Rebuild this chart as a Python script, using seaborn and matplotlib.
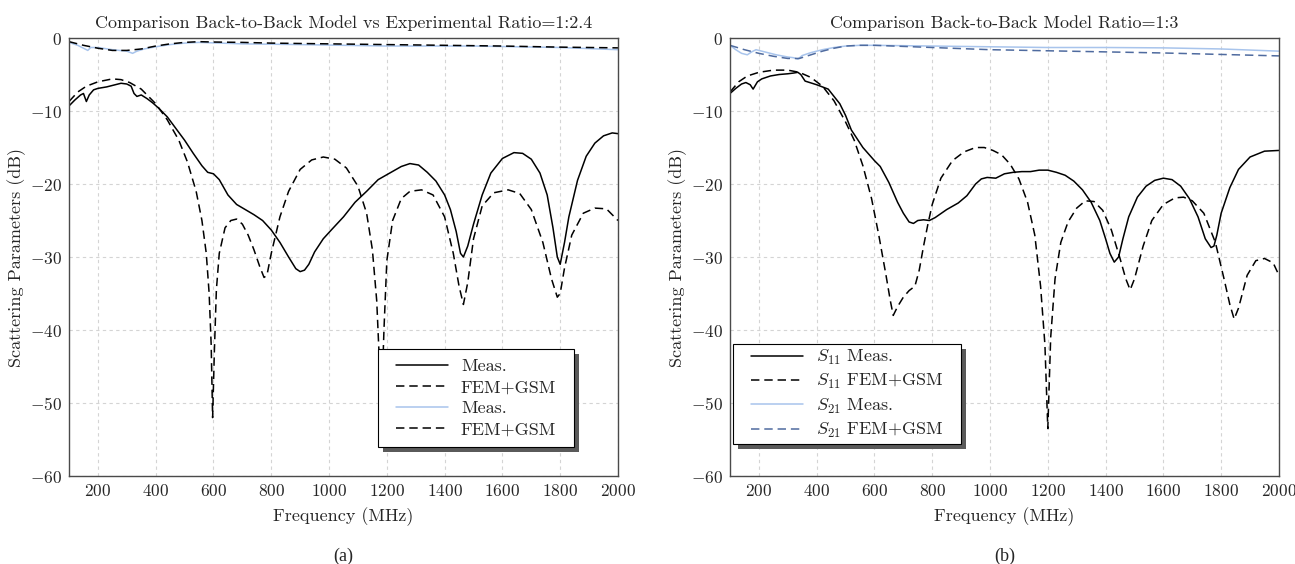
import numpy as np
import pandas as pd
import seaborn as sns
import matplotlib.pyplot as plt
from matplotlib.patches import Rectangle

# ---- (a) ratio 1:2.4 ----
a_s11_meas_f = [100, 120, 140, 150, 160, 170, 185, 200, 230, 260, 280, 300, 315, 325, 335, 350, 370, 390, 410, 440,
                470, 500, 530, 560, 580, 600, 620, 650, 680, 710, 740, 770, 800, 830, 860, 885, 900, 915, 930, 950,
                980, 1010, 1050, 1090, 1130, 1170, 1210, 1250, 1280, 1310, 1340, 1370, 1400, 1420, 1440, 1455, 1465,
                1480, 1500, 1530, 1560, 1600, 1640, 1670, 1700, 1730, 1755, 1775, 1790, 1800, 1815, 1830, 1860, 1890,
                1920, 1950, 1980, 2000]
a_s11_meas_db = [-9.3, -8.5, -7.8, -7.6, -8.7, -7.8, -7.1, -6.9, -6.7, -6.4, -6.2, -6.3, -6.6, -7.6, -8.0, -7.8, -8.3,
                 -8.9, -9.6, -10.8, -12.4, -14.0, -15.8, -17.5, -18.4, -18.6, -19.4, -21.5, -22.8, -23.5, -24.2, -25.0,
                 -26.3, -28.0, -30.0, -31.6, -32.0, -31.8, -31.0, -29.3, -27.5, -26.2, -24.5, -22.5, -21.0, -19.4,
                 -18.5, -17.6, -17.2, -17.4, -18.4, -19.6, -21.5, -23.5, -26.5, -29.5, -30.0, -28.5, -25.5, -21.5,
                 -18.5, -16.5, -15.7, -15.8, -16.6, -18.5, -21.5, -26.0, -30.0, -31.0, -28.0, -24.5, -19.5, -16.2,
                 -14.4, -13.4, -13.0, -13.1]

a_s11_fem_f = [100, 130, 160, 200, 250, 280, 310, 350, 400, 440, 480, 510, 540, 560, 575, 585, 592, 597, 603, 610, 620,
               640, 660, 680, 700, 720, 740, 760, 775, 785, 800, 830, 860, 900, 940, 980, 1020, 1060, 1100, 1130, 1150,
               1165, 1175, 1182, 1190, 1200, 1220, 1250, 1280, 1320, 1360, 1400, 1430, 1450, 1465, 1480, 1500, 1530,
               1570, 1620, 1660, 1700, 1740, 1770, 1790, 1800, 1815, 1840, 1880, 1920, 1960, 2000]
a_s11_fem_db = [-8.7, -7.4, -6.6, -6.0, -5.6, -5.7, -6.1, -7.0, -9.0, -11.2, -14.0, -17.0, -21.0, -25.0, -29.5, -35.0,
                -42.0, -52.0, -43.0, -34.5, -29.5, -26.0, -25.0, -24.8, -25.5, -27.0, -29.0, -31.3, -32.8, -32.5, -29.5,
                -24.5, -21.0, -18.0, -16.7, -16.3, -16.6, -17.8, -20.3, -24.0, -29.0, -36.0, -45.0, -50.0, -40.0,
                -30.5, -25.0, -22.0, -21.0, -20.8, -21.5, -24.5, -29.5, -34.0, -36.5, -33.5, -27.5, -23.0, -21.2,
                -20.8, -21.3, -23.5, -28.0, -33.0, -35.5, -35.0, -31.5, -27.0, -24.0, -23.3, -23.4, -25.0]

a_s21_meas_f = [100, 130, 155, 165, 175, 200, 250, 300, 320, 335, 360, 400, 450, 500, 550, 700, 900, 1200, 1500, 1800, 2000]
a_s21_meas_db = [-0.6, -1.0, -1.5, -1.7, -1.3, -1.3, -1.6, -1.8, -2.1, -1.8, -1.5, -1.2, -0.9, -0.7, -0.6, -0.8, -0.9,
                 -1.1, -1.1, -1.3, -1.6]

a_s21_fem_f = [100, 150, 200, 250, 300, 350, 400, 450, 500, 550, 600, 700, 800, 1000, 1200, 1400, 1600, 1800, 2000]
a_s21_fem_db = [-0.5, -1.0, -1.4, -1.7, -1.7, -1.5, -1.1, -0.8, -0.6, -0.5, -0.55, -0.6, -0.7, -0.8, -0.9, -1.0, -1.1,
                -1.25, -1.35]

# ---- (b) ratio 1:3 ----
b_s11_meas_f = [100, 120, 140, 155, 170, 180, 195, 210, 240, 270, 300, 320, 335, 345, 360, 400, 440, 480, 500, 520, 560,
                600, 620, 650, 680, 700, 720, 735, 750, 770, 790, 810, 850, 890, 920, 950, 970, 990, 1020, 1050, 1080,
                1110, 1140, 1170, 1200, 1230, 1260, 1290, 1320, 1350, 1380, 1400, 1415, 1430, 1445, 1460, 1480, 1510,
                1540, 1570, 1600, 1630, 1660, 1690, 1720, 1745, 1765, 1775, 1785, 1800, 1830, 1860, 1900, 1950, 2000]
b_s11_meas_db = [-7.6, -6.9, -6.3, -6.1, -6.4, -7.0, -6.0, -5.6, -5.2, -5.0, -4.9, -4.8, -4.7, -5.0, -5.9, -6.4, -7.0,
                 -9.0, -10.6, -12.6, -15.0, -16.8, -17.6, -19.8, -22.5, -24.0, -25.2, -25.4, -25.0, -24.9, -25.0,
                 -24.6, -23.5, -22.6, -21.6, -20.0, -19.3, -19.1, -19.2, -18.6, -18.4, -18.3, -18.3, -18.1, -18.1,
                 -18.4, -18.8, -19.6, -20.8, -22.5, -25.0, -27.5, -29.5, -30.7, -30.0, -27.5, -24.5, -21.8, -20.3,
                 -19.5, -19.2, -19.4, -20.3, -22.0, -24.5, -27.5, -28.7, -28.5, -27.0, -24.0, -20.5, -18.0, -16.3,
                 -15.5, -15.4]

b_s11_fem_f = [100, 130, 160, 200, 250, 300, 340, 380, 420, 460, 500, 530, 560, 590, 615, 640, 655, 665, 680, 700, 720,
               740, 755, 770, 785, 800, 830, 870, 910, 950, 980, 1010, 1040, 1070, 1100, 1130, 1155, 1175, 1190, 1200,
               1210, 1225, 1245, 1270, 1300, 1330, 1360, 1390, 1420, 1450, 1470, 1485, 1500, 1530, 1560, 1600, 1640,
               1670, 1700, 1740, 1780, 1810, 1830, 1845, 1860, 1890, 1920, 1950, 1980, 2000]
b_s11_fem_db = [-7.4, -6.0, -5.2, -4.7, -4.4, -4.4, -4.7, -5.4, -6.6, -8.6, -11.5, -14.0, -17.5, -22.0, -27.0, -32.5,
                -36.0, -38.0, -36.8, -35.5, -34.6, -34.0, -31.8, -28.5, -25.5, -22.8, -19.2, -16.8, -15.6, -15.0,
                -15.0, -15.4, -16.0, -17.3, -19.3, -22.5, -27.0, -34.0, -42.0, -53.5, -41.0, -33.0, -28.0, -25.2,
                -23.3, -22.3, -22.4, -23.6, -26.3, -30.2, -33.0, -34.5, -33.0, -28.5, -25.0, -22.8, -21.9, -21.8,
                -22.3, -24.0, -28.0, -33.0, -36.5, -38.5, -37.0, -32.5, -30.5, -30.2, -30.8, -32.5]

b_s21_meas_f = [100, 120, 140, 160, 175, 190, 220, 260, 300, 320, 335, 350, 380, 420, 460, 500, 550, 600, 800, 1000,
                1200, 1400, 1600, 1800, 2000]
b_s21_meas_db = [-1.0, -1.6, -2.1, -2.3, -1.9, -1.6, -1.9, -2.3, -2.6, -2.7, -2.9, -2.4, -2.0, -1.6, -1.3, -1.1, -1.0,
                 -1.0, -1.1, -1.2, -1.3, -1.3, -1.35, -1.5, -1.8]

b_s21_fem_f = [100, 150, 200, 250, 300, 340, 380, 420, 460, 500, 550, 600, 700, 800, 1000, 1200, 1400, 1600, 1800, 2000]
b_s21_fem_db = [-1.0, -1.6, -2.1, -2.5, -2.8, -2.8, -2.3, -1.8, -1.4, -1.1, -1.0, -1.0, -1.15, -1.3, -1.6, -1.75, -1.9,
                -2.05, -2.25, -2.45]

sns.set_style("white")
plt.rcParams['font.family'] = 'serif'
plt.rcParams['font.serif'] = ['cmr10', 'DejaVu Serif']
plt.rcParams['mathtext.fontset'] = 'cm'
plt.rcParams['axes.formatter.use_mathtext'] = True
plt.rcParams['axes.unicode_minus'] = True

FS = 13
TICK_FS = 12.5
black = 'black'
lightblue = '#a8c4ec'
slate = '#4f6b9f'
dash = (0, (5.5, 3.2))

fig = plt.figure(figsize=(12.95, 5.64), dpi=100)
ax_a = fig.add_axes([0.0533, 0.156, 0.4239, 0.7766])
ax_b = fig.add_axes([0.5637, 0.156, 0.4239, 0.7766])


def draw(ax, f, db, color, ls, label, lw=1.1):
    df = pd.DataFrame({'f': f, 'db': db})
    sns.lineplot(data=df, x='f', y='db', ax=ax, color=color, linestyle=ls, linewidth=lw, label=label)


draw(ax_a, a_s11_meas_f, a_s11_meas_db, black, '-', 'Meas.')
draw(ax_a, a_s11_fem_f, a_s11_fem_db, black, dash, 'FEM+GSM')
draw(ax_a, a_s21_meas_f, a_s21_meas_db, lightblue, '-', 'Meas.')
draw(ax_a, a_s21_fem_f, a_s21_fem_db, black, dash, 'FEM+GSM')

draw(ax_b, b_s11_meas_f, b_s11_meas_db, black, '-', r'$S_{11}$ Meas.')
draw(ax_b, b_s11_fem_f, b_s11_fem_db, black, dash, r'$S_{11}$ FEM+GSM')
draw(ax_b, b_s21_meas_f, b_s21_meas_db, lightblue, '-', r'$S_{21}$ Meas.')
draw(ax_b, b_s21_fem_f, b_s21_fem_db, slate, dash, r'$S_{21}$ FEM+GSM')

titles = ['Comparison Back-to-Back Model vs Experimental Ratio=1:2.4',
          'Comparison Back-to-Back Model Ratio=1:3']
captions = ['(a)', '(b)']

for ax, title, cap in zip([ax_a, ax_b], titles, captions):
    ax.set_xlim(100, 2000)
    ax.set_ylim(-60, 0)
    ax.set_xticks(np.arange(200, 2001, 200))
    ax.set_yticks(np.arange(-60, 1, 10))
    ax.grid(True, color='#d4d4d4', linestyle=(0, (3, 3)), linewidth=0.8)
    ax.tick_params(labelsize=TICK_FS, direction='in', length=0, pad=5)
    ax.set_title(title, fontsize=FS, pad=7)
    ax.set_xlabel('Frequency (MHz)', fontsize=FS, labelpad=6)
    ax.set_ylabel('Scattering Parameters (dB)', fontsize=FS, labelpad=3)
    for sp in ax.spines.values():
        sp.set_color('#4a4a4a')
        sp.set_linewidth(1.0)
    ax.text(0.5, -0.183, cap, transform=ax.transAxes, ha='center', va='center',
            fontsize=FS, family='Liberation Serif')

# legend boxes (axes fraction: x0, y0, x1, y1), framed by hand with an offset shadow
boxes = {ax_a: (0.563, 0.066, 0.920, 0.290), ax_b: (0.0055, 0.073, 0.421, 0.301)}
leg_kw = dict(fontsize=FS, frameon=False, loc='center', handlelength=2.9, borderpad=0,
              labelspacing=0.3, handletextpad=0.7, borderaxespad=0)
for ax, (x0, y0, x1, y1) in boxes.items():
    lg = ax.legend(bbox_to_anchor=((x0 + x1) / 2, (y0 + y1) / 2), **leg_kw)
    lg.set_zorder(6)
    dx = 5 / 549
    dy = 5 / 438
    ax.add_patch(Rectangle((x0 + dx, y0 - dy), x1 - x0, y1 - y0, transform=ax.transAxes,
                           facecolor='#5a5a5a', edgecolor='none', zorder=4.8, clip_on=False))
    ax.add_patch(Rectangle((x0, y0), x1 - x0, y1 - y0, transform=ax.transAxes,
                           facecolor='white', edgecolor='black', linewidth=0.8, zorder=4.9, clip_on=False))

fig.savefig('out.png', dpi=100)
